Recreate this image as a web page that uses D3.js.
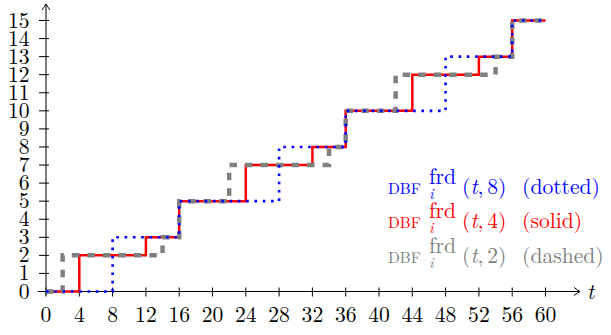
<!DOCTYPE html>
<html>
<head>
<meta charset="utf-8">
<script src="https://cdn.jsdelivr.net/npm/d3@7"></script>
<style>
  body { margin: 0; background: #fff; }
</style>
</head>
<body>
<div id="chart"></div>
<script>
// step functions: value holds from t onward (curveStepAfter)
const tDotted = [0, 8, 16, 28, 36, 48, 56, 60];
const vDotted = [0, 3, 5, 8, 10, 13, 15, 15];

const tSolid = [0, 4, 12, 16, 24, 32, 36, 44, 52, 56, 60];
const vSolid = [0, 2, 3, 5, 7, 8, 10, 12, 13, 15, 15];

const tDashed = [0, 2, 14, 16, 22, 34, 36, 42, 54, 56, 60];
const vDashed = [0, 2, 3, 5, 7, 8, 10, 12, 13, 15, 15];

const xTicks = d3.range(0, 61, 4);
const yTicks = d3.range(0, 16, 1);

const legendK = ["8", "4", "2"];
const legendStyle = ["dotted", "solid", "dashed"];
const legendColor = ["#0000ff", "#ff0000", "#808080"];

const width = 611, height = 335;
const serif = "'Latin Modern Roman', 'Liberation Serif', serif";
const fs = 21.6;

const svg = d3.select("#chart").append("svg")
    .attr("width", width)
    .attr("height", height);

const x = d3.scaleLinear().domain([0, 60]).range([46, 545.5]);
const y = d3.scaleLinear().domain([0, 15]).range([291.5, 20.5]);

function txt(g) {
    return g.append("text").style("font-family", serif);
}

const axisG = svg.append("g").attr("stroke", "#000").attr("stroke-width", 1).attr("fill", "none");

// x axis line + arrow
const xEnd = 580;
axisG.append("line")
    .attr("x1", x(-1)).attr("x2", xEnd)
    .attr("y1", y(0)).attr("y2", y(0));
axisG.append("path")
    .attr("d", `M${xEnd - 6},${y(0) - 4} Q${xEnd - 2},${y(0) - 1} ${xEnd},${y(0)} Q${xEnd - 2},${y(0) + 1} ${xEnd - 6},${y(0) + 4}`);

// y axis line + arrow
const yTop = 4;
axisG.append("line")
    .attr("x1", x(0)).attr("x2", x(0))
    .attr("y1", y(-0.2)).attr("y2", yTop);
axisG.append("path")
    .attr("d", `M${x(0) - 4},${yTop + 6} Q${x(0) - 1},${yTop + 2} ${x(0)},${yTop} Q${x(0) + 1},${yTop + 2} ${x(0) + 4},${yTop + 6}`);

// ticks
axisG.selectAll(".xt").data(xTicks).enter().append("line")
    .attr("x1", d => x(d)).attr("x2", d => x(d))
    .attr("y1", y(0) - 4).attr("y2", y(0) + 5);
axisG.selectAll(".yt").data(yTicks).enter().append("line")
    .attr("x1", x(0) - 7).attr("x2", x(0) + 3)
    .attr("y1", d => y(d)).attr("y2", d => y(d));

// tick labels
xTicks.forEach(d => {
    txt(svg).attr("x", x(d)).attr("y", 321.5)
        .attr("text-anchor", "middle")
        .attr("font-size", fs)
        .text(d);
});
yTicks.forEach(d => {
    txt(svg).attr("x", 29.5).attr("y", y(d) + 7)
        .attr("text-anchor", "end")
        .attr("font-size", fs)
        .text(d);
});

txt(svg)
    .attr("x", 587).attr("y", 298.5)
    .attr("font-size", fs)
    .attr("font-style", "italic")
    .text("t");

// lines
const line = d3.line()
    .x(d => x(d[0]))
    .y(d => y(d[1]))
    .curve(d3.curveStepAfter);

const solid = d3.zip(tSolid, vSolid);
const dashed = d3.zip(tDashed, vDashed);
const dotted = d3.zip(tDotted, vDotted);

svg.append("path").datum(solid)
    .attr("d", line)
    .attr("fill", "none")
    .attr("stroke", "#ff0000")
    .attr("stroke-width", 2.5);

svg.append("path").datum(dashed)
    .attr("d", line)
    .attr("fill", "none")
    .attr("stroke", "#808080")
    .attr("stroke-width", 4.5)
    .attr("stroke-dasharray", "7.5,8");

svg.append("path").datum(dotted)
    .attr("d", line)
    .attr("fill", "none")
    .attr("stroke", "#0000ff")
    .attr("stroke-width", 2.6)
    .attr("stroke-dasharray", "2.6,5.7");

// legend
const legBase = [193.5, 228, 262.5];
const leg = svg.append("g");
legendK.forEach((k, i) => {
    const b = legBase[i], c = legendColor[i];
    txt(leg)
        .attr("x", 388).attr("y", b)
        .attr("font-size", 15.5)
        .attr("fill", c)
        .text("DBF");
    txt(leg)
        .attr("x", 429).attr("y", b - 10)
        .attr("font-size", fs)
        .attr("fill", c)
        .text("frd");
    txt(leg)
        .attr("x", 429).attr("y", b + 5)
        .attr("font-size", 15)
        .attr("font-style", "italic")
        .attr("fill", c)
        .text("i");
    const arg = txt(leg)
        .attr("x", 462).attr("y", b)
        .attr("font-size", fs)
        .attr("fill", c);
    arg.append("tspan").text("(");
    arg.append("tspan").attr("font-style", "italic").text("t");
    arg.append("tspan").text(",");
    arg.append("tspan").attr("dx", 3.6).text(k + ")");
    txt(leg)
        .attr("x", 522).attr("y", b)
        .attr("font-size", fs)
        .attr("fill", c)
        .text("(" + legendStyle[i] + ")");
});
</script>
</body>
</html>
